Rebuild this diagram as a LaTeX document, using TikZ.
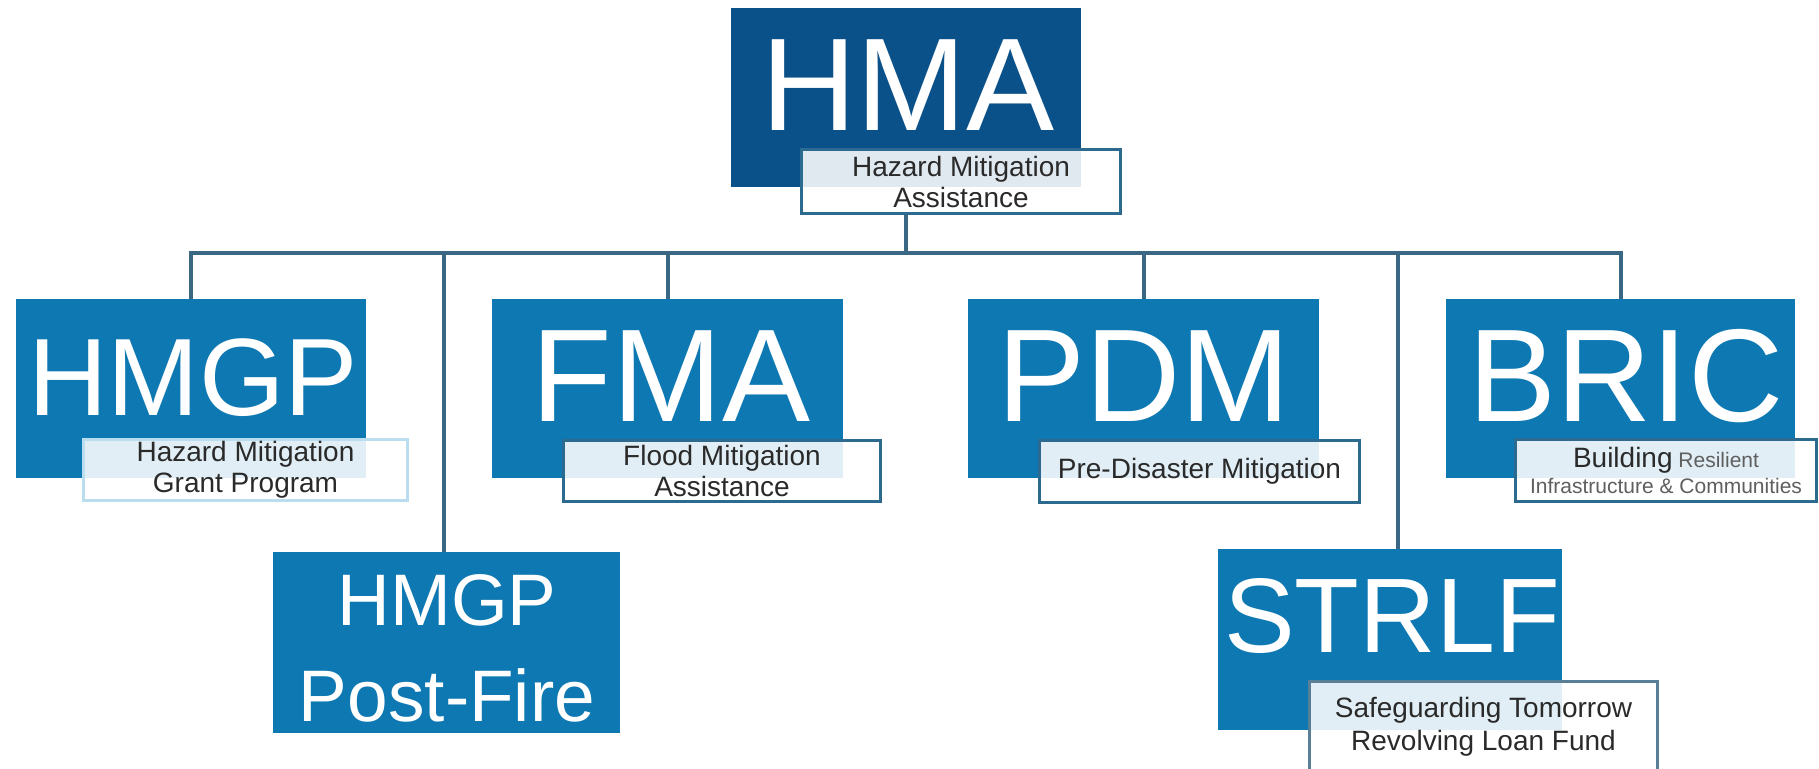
\documentclass[tikz,border=0pt]{standalone}
\usepackage{fontspec}
\setmainfont{Liberation Sans}
\usetikzlibrary{calc}
\definecolor{hmablue}{HTML}{0B5189}
\definecolor{progblue}{HTML}{0E78B2}
\definecolor{linkblue}{HTML}{3A6884}
\definecolor{edgeblue}{HTML}{2D6A8F}
\definecolor{paleblue}{HTML}{BBDDF0}
\definecolor{captext}{HTML}{2A2A2A}
\newcommand{\titlefont}[1]{\fontsize{#1}{#1}\selectfont}

\begin{document}
\begin{tikzpicture}[x=1pt,y=-1pt]
        %
        % `program' is used for the blue boxes, `title' for their big letters.
        % `caption' is used for the white boxes with the full names.
        % `link' is used for the tree lines.
        \tikzstyle{program} = [fill=progblue,anchor=north west,inner sep=0pt,outer sep=0pt,minimum width=350,minimum height=179]
        \tikzstyle{title} = [anchor=base,text=white,inner sep=0pt]
        \tikzstyle{caption} = [draw=edgeblue,line width=3pt,fill=white,fill opacity=0.88,text opacity=1,text=captext,anchor=north west,inner sep=0pt,align=center,font=\fontsize{28}{31}\selectfont]
        \tikzstyle{link} = [draw=linkblue,line width=4pt]
        %
        \useasboundingbox[fill=white] (0,0) rectangle (1819,768);
        %
        % Boxes
        \node[program,fill=hmablue] (hma) at (731,8) {};
        \node[program] (hmgp) at (16,299) {};
        \node[program,minimum height=181,minimum width=347] (post) at (273,552) {};
        \node[program,minimum width=351] (fma) at (492,299) {};
        \node[program,minimum width=351] (pdm) at (968,299) {};
        \node[program,minimum width=349] (bric) at (1446,299) {};
        \node[program,minimum width=344,minimum height=181] (strlf) at (1218,549) {};
        %
        % Titles
        \node[title,font=\titlefont{132}] (hmaT) at (908,130) {HMA};
        \node[title,font=\titlefont{110}] (hmgpT) at (193,415) {HMGP};
        \node[title,font=\titlefont{132}] (fmaT) at (671,421) {FMA};
        \node[title,font=\titlefont{132}] (pdmT) at (1144,421) {PDM};
        \node[title,font=\titlefont{132}] (bricT) at (1626,421) {BRIC};
        \node[title,font=\titlefont{73}] (postT1) at (447,625) {HMGP};
        \node[title,font=\titlefont{73}] (postT2) at (447,721) {Post-Fire};
        \node[title,font=\titlefont{106}] (strlfT) at (1392,652) {STRLF};
        %
        % Captions
        \node[caption,minimum width=319,minimum height=64] (hmaL) at (800,148) {Hazard Mitigation\\Assistance};
        \node[caption,draw=paleblue,minimum width=324,minimum height=61] (hmgpL) at (82,438) {Hazard Mitigation\\Grant Program};
        \node[caption,minimum width=317,minimum height=61] (fmaL) at (562,439) {Flood Mitigation\\Assistance};
        \node[caption,minimum width=320,minimum height=62] (pdmL) at (1038,439) {Pre-Disaster Mitigation};
        \node[caption,minimum width=301,minimum height=62,font=\fontsize{21}{26}\selectfont] (bricL) at (1514,438)
        {{\fontsize{28}{26}\selectfont Building} {\color{captext!75}Resilient}\\{\color{captext!75}Infrastructure \& Communities}};
        \node[caption,draw=linkblue!85,minimum width=348,minimum height=90,font=\fontsize{28}{33}\selectfont] (strlfL) at (1308,680)
        {Safeguarding Tomorrow\\Revolving Loan Fund};
        %
        % Tree lines
        \coordinate (bus) at (906,253);
        \draw[link] (bus |- hmaL.south) -- (bus);
        \draw[link] (hmgp.north) |- (bus);
        \draw[link] ([xshift=-3]post.north) |- (bus);
        \draw[link] (fma.north) |- (bus);
        \draw[link] (pdm.north) |- (bus);
        \draw[link] ([xshift=8]strlf.north) |- (bus);
        \draw[link] (bric.north) |- (bus);
        %
\end{tikzpicture}
\end{document}
